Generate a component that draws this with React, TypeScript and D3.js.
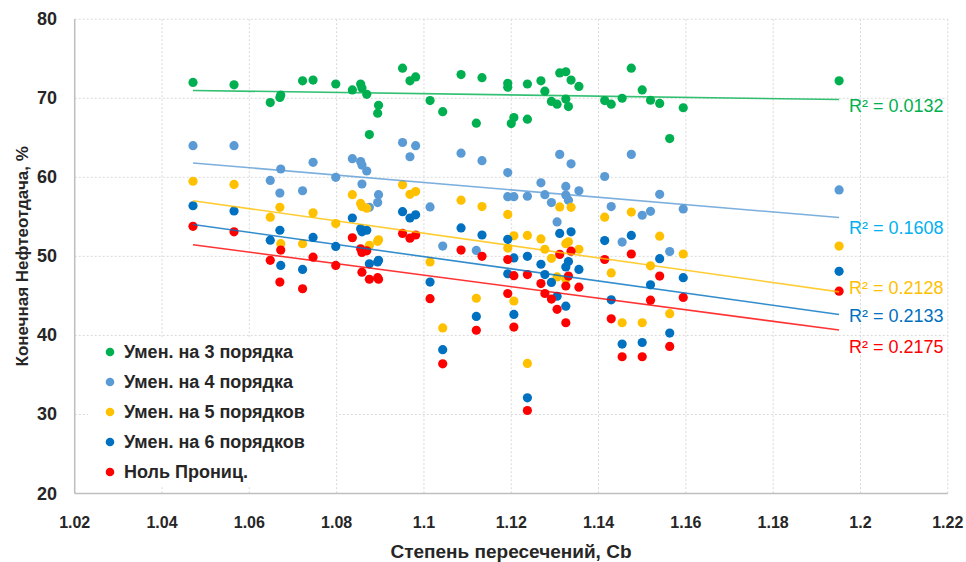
import React from "react";
import * as d3 from "d3";

// ---- data ----
const SERIES_NAMES = ["Умен. на 3 порядка", "Умен. на 4 порядка", "Умен. на 5 порядков", "Умен. на 6 порядков", "Ноль Прониц."];
const SERIES_COLORS = ["#00B050", "#5B9BD5", "#FFC000", "#0070C0", "#FF0000"];
const LABEL_COLORS = ["#00B050", "#00B0F0", "#FFC000", "#0070C0", "#FF0000"];
const R2_LABELS = ["R² = 0.0132", "R² = 0.1608", "R² = 0.2128", "R² = 0.2133", "R² = 0.2175"];
const R2_LABEL_Y = [69.0, 53.6, 46.0, 42.45, 38.55];

const X_TICKS = [1.02, 1.04, 1.06, 1.08, 1.1, 1.12, 1.14, 1.16, 1.18, 1.2, 1.22];
const Y_TICKS = [20, 30, 40, 50, 60, 70, 80];

const greenX = [1.0471, 1.0565, 1.0648, 1.067, 1.0672, 1.0722, 1.0746, 1.0798, 1.0836, 1.0855, 1.0858, 1.0869, 1.0875, 1.0896, 1.0894, 1.0951, 1.0968, 1.0981, 1.1014, 1.1043, 1.1085, 1.112, 1.1133, 1.1192, 1.1192, 1.1206, 1.12, 1.1237, 1.1237, 1.1268, 1.1277, 1.1292, 1.1305, 1.1311, 1.1325, 1.1325, 1.1331, 1.1337, 1.1355, 1.1414, 1.1429, 1.1454, 1.1475, 1.15, 1.1519, 1.154, 1.1563, 1.1594, 1.1951];
const greenY = [72.0, 71.7, 69.45, 70.1, 70.4, 72.2, 72.3, 71.8, 71.05, 71.8, 71.3, 70.5, 65.4, 69.1, 68.1, 73.8, 72.2, 72.7, 69.7, 68.3, 73.0, 66.85, 72.6, 71.9, 71.4, 67.55, 66.8, 71.8, 67.35, 72.2, 70.9, 69.6, 69.25, 73.2, 73.35, 69.9, 68.95, 72.3, 71.5, 69.7, 69.25, 70.0, 73.8, 71.05, 69.75, 69.35, 64.9, 68.8, 72.2];

const lightBlueX = [1.0471, 1.0565, 1.0648, 1.0672, 1.067, 1.0722, 1.0746, 1.0798, 1.0836, 1.0855, 1.0858, 1.0869, 1.0858, 1.0875, 1.0896, 1.0894, 1.0951, 1.0968, 1.0981, 1.1014, 1.1043, 1.1085, 1.112, 1.1133, 1.1192, 1.1192, 1.1206, 1.1237, 1.1268, 1.1277, 1.1292, 1.1305, 1.1311, 1.1325, 1.1325, 1.1331, 1.1337, 1.1355, 1.1414, 1.1429, 1.1454, 1.1475, 1.15, 1.1519, 1.154, 1.1563, 1.1594, 1.1951];
const lightBlueY = [64.0, 64.0, 59.6, 61.05, 58.0, 58.3, 61.9, 60.0, 62.35, 62.0, 61.55, 60.8, 59.15, 56.2, 57.8, 56.8, 64.4, 62.6, 64.0, 56.25, 51.3, 63.05, 50.75, 62.1, 60.6, 57.55, 57.55, 57.6, 59.3, 57.8, 56.8, 54.35, 62.9, 58.85, 57.75, 57.1, 61.7, 58.3, 60.1, 56.3, 51.8, 62.9, 55.2, 55.7, 57.85, 50.6, 56.0, 58.4];

const yellowX = [1.0471, 1.0565, 1.0648, 1.067, 1.0672, 1.0722, 1.0746, 1.0798, 1.0836, 1.0855, 1.0858, 1.0869, 1.0875, 1.0896, 1.0894, 1.0951, 1.0968, 1.0981, 1.1014, 1.1043, 1.1085, 1.112, 1.1133, 1.1192, 1.1192, 1.1206, 1.1206, 1.1237, 1.1237, 1.1268, 1.1277, 1.1292, 1.1305, 1.1311, 1.1325, 1.1325, 1.1331, 1.1337, 1.1355, 1.1414, 1.1429, 1.1454, 1.1475, 1.15, 1.1519, 1.154, 1.1563, 1.1594, 1.1951];
const yellowY = [59.5, 59.1, 54.95, 56.2, 51.6, 51.6, 55.5, 54.15, 57.8, 56.7, 56.3, 56.1, 51.4, 52.1, 51.9, 59.05, 57.85, 58.2, 49.3, 40.95, 57.1, 44.7, 56.3, 55.3, 51.05, 52.6, 44.35, 52.65, 36.45, 52.2, 50.9, 49.75, 47.4, 56.25, 51.6, 47.1, 51.85, 56.2, 50.9, 54.95, 47.9, 41.6, 55.6, 41.6, 48.8, 52.55, 42.75, 50.3, 51.3];

const darkBlueX = [1.0471, 1.0565, 1.0648, 1.067, 1.0672, 1.0722, 1.0746, 1.0798, 1.0836, 1.0855, 1.0858, 1.0869, 1.0875, 1.0896, 1.0894, 1.0951, 1.0968, 1.0981, 1.1014, 1.1043, 1.1085, 1.112, 1.1133, 1.1192, 1.1192, 1.1206, 1.1206, 1.1237, 1.1237, 1.1268, 1.1277, 1.1292, 1.1305, 1.1311, 1.1331, 1.1325, 1.1325, 1.1337, 1.1355, 1.1414, 1.1429, 1.1454, 1.1475, 1.15, 1.1519, 1.154, 1.1563, 1.1594, 1.1951];
const darkBlueY = [56.4, 55.75, 52.05, 53.3, 48.85, 48.35, 52.4, 51.25, 54.85, 53.5, 53.1, 53.3, 49.05, 49.5, 49.3, 55.65, 54.85, 55.25, 46.75, 38.2, 53.6, 42.4, 52.7, 52.15, 47.8, 49.8, 42.65, 50.0, 32.1, 49.0, 47.7, 46.7, 44.95, 52.9, 49.35, 48.65, 43.7, 53.1, 48.35, 52.0, 44.5, 38.9, 52.65, 39.1, 46.4, 49.7, 40.3, 47.3, 48.1];

const redX = [1.0471, 1.0565, 1.0648, 1.0672, 1.067, 1.0722, 1.0746, 1.0798, 1.0836, 1.0855, 1.0858, 1.0869, 1.0858, 1.0875, 1.0896, 1.0894, 1.0951, 1.0968, 1.0981, 1.1014, 1.1043, 1.1085, 1.112, 1.1133, 1.1192, 1.1192, 1.1206, 1.1206, 1.1237, 1.1237, 1.1268, 1.1277, 1.1292, 1.1305, 1.1311, 1.1337, 1.1331, 1.1325, 1.1325, 1.1355, 1.1414, 1.1429, 1.1454, 1.1475, 1.15, 1.1519, 1.154, 1.1563, 1.1594, 1.1951];
const redY = [53.8, 53.1, 49.5, 50.8, 46.75, 45.9, 49.9, 48.85, 52.35, 50.95, 50.5, 50.7, 48.0, 47.1, 47.1, 47.3, 52.9, 52.3, 52.7, 44.65, 36.4, 50.8, 40.65, 50.0, 49.6, 45.3, 47.55, 41.05, 47.7, 30.5, 46.55, 45.3, 44.6, 43.3, 50.25, 50.65, 47.5, 46.25, 41.6, 46.1, 49.6, 42.1, 37.3, 50.3, 37.3, 44.45, 47.5, 38.6, 44.8, 45.6];

const SERIES_X = [greenX, lightBlueX, yellowX, darkBlueX, redX];
const SERIES_Y = [greenY, lightBlueY, yellowY, darkBlueY, redY];

// ---- layout ----
const W = 966;
const H = 562;
const PL = 74.7, PR = 947.8, PT = 19.2, PB = 493.5;
const FONT = "'Liberation Sans', Arial, sans-serif";

function fit(xs: number[], ys: number[]) {
  const mx = d3.mean(xs) as number;
  const my = d3.mean(ys) as number;
  let sxy = 0, sxx = 0;
  xs.forEach((x, i) => {
    sxy += (x - mx) * (ys[i] - my);
    sxx += (x - mx) * (x - mx);
  });
  const slope = sxy / sxx;
  return { slope, intercept: my - slope * mx };
}

export default function App() {
  const x = d3.scaleLinear().domain([1.02, 1.22]).range([PL, PR]);
  const y = d3.scaleLinear().domain([20, 80]).range([PB, PT]);
  const line = d3.line<[number, number]>().x((d) => x(d[0])).y((d) => y(d[1]));

  const legendRowY = [352, 382, 412, 442, 472];

  return (
    <svg width={W} height={H} style={{ position: "absolute", left: 0, top: 0, background: "#fff" }} fontFamily={FONT}>
      <rect x={0} y={0} width={W} height={H} fill="#fff" />
      {/* gridlines */}
      {Y_TICKS.map((t) => (
        <line key={"gy" + t} x1={PL} x2={PR} y1={y(t)} y2={y(t)} stroke="#D9D9D9" strokeWidth={1} strokeDasharray="2,2" />
      ))}
      {X_TICKS.map((t) => (
        <line key={"gx" + t} x1={x(t)} x2={x(t)} y1={PT} y2={PB} stroke="#D9D9D9" strokeWidth={1} strokeDasharray="2,2" />
      ))}
      {/* axes */}
      <line x1={PL} x2={PL} y1={PT} y2={PB} stroke="#BFBFBF" strokeWidth={1.5} />
      <line x1={PL} x2={PR} y1={PB} y2={PB} stroke="#BFBFBF" strokeWidth={1.5} />

      {/* tick labels */}
      {Y_TICKS.map((t) => (
        <text key={"ty" + t} x={57} y={y(t)} textAnchor="end" dominantBaseline="central" fontSize={18} fontWeight="bold" fill="#262626">
          {t}
        </text>
      ))}
      {X_TICKS.map((t) => (
        <text key={"tx" + t} x={x(t)} y={522} textAnchor="middle" dominantBaseline="central" fontSize={16} fontWeight="bold" fill="#262626">
          {String(t)}
        </text>
      ))}
      <text transform={`translate(22,${(PT + PB) / 2}) rotate(-90)`} textAnchor="middle" dominantBaseline="central" fontSize={17} fontWeight="bold" fill="#262626">
        Конечная Нефтеотдача, %
      </text>
      <text x={511} y={551} textAnchor="middle" dominantBaseline="central" fontSize={19} fontWeight="bold" fill="#262626">
        Степень пересечений, Cb
      </text>

      {/* points */}
      {SERIES_X.map((xs, si) => (
        <g key={"s" + si}>
          {xs.map((xv, i) => (
            <circle key={i} cx={x(xv)} cy={y(SERIES_Y[si][i])} r={4.6} fill={SERIES_COLORS[si]} />
          ))}
        </g>
      ))}

      {/* trendlines */}
      {SERIES_X.map((xs, si) => {
        const { slope, intercept } = fit(xs, SERIES_Y[si]);
        const x0 = d3.min(xs) as number;
        const x1 = d3.max(xs) as number;
        const pts: [number, number][] = [
          [x0, intercept + slope * x0],
          [x1, intercept + slope * x1],
        ];
        return <path key={"t" + si} d={line(pts) || ""} stroke={SERIES_COLORS[si]} strokeWidth={1.6} strokeOpacity={0.8} fill="none" />;
      })}

      {/* R² labels */}
      {R2_LABELS.map((lab, si) => (
        <text key={"r" + si} x={849} y={y(R2_LABEL_Y[si])} dominantBaseline="central" fontSize={18} fill={LABEL_COLORS[si]}>
          {lab}
        </text>
      ))}

      {/* legend */}
      <rect x={88} y={337} width={248} height={150} fill="#fff" />
      {SERIES_NAMES.map((name, si) => (
        <g key={"l" + si}>
          <circle cx={110} cy={legendRowY[si]} r={4.3} fill={SERIES_COLORS[si]} />
          <text x={124} y={legendRowY[si]} dominantBaseline="central" fontSize={18} fontWeight="bold" fill="#262626">
            {name}
          </text>
        </g>
      ))}
    </svg>
  );
}
